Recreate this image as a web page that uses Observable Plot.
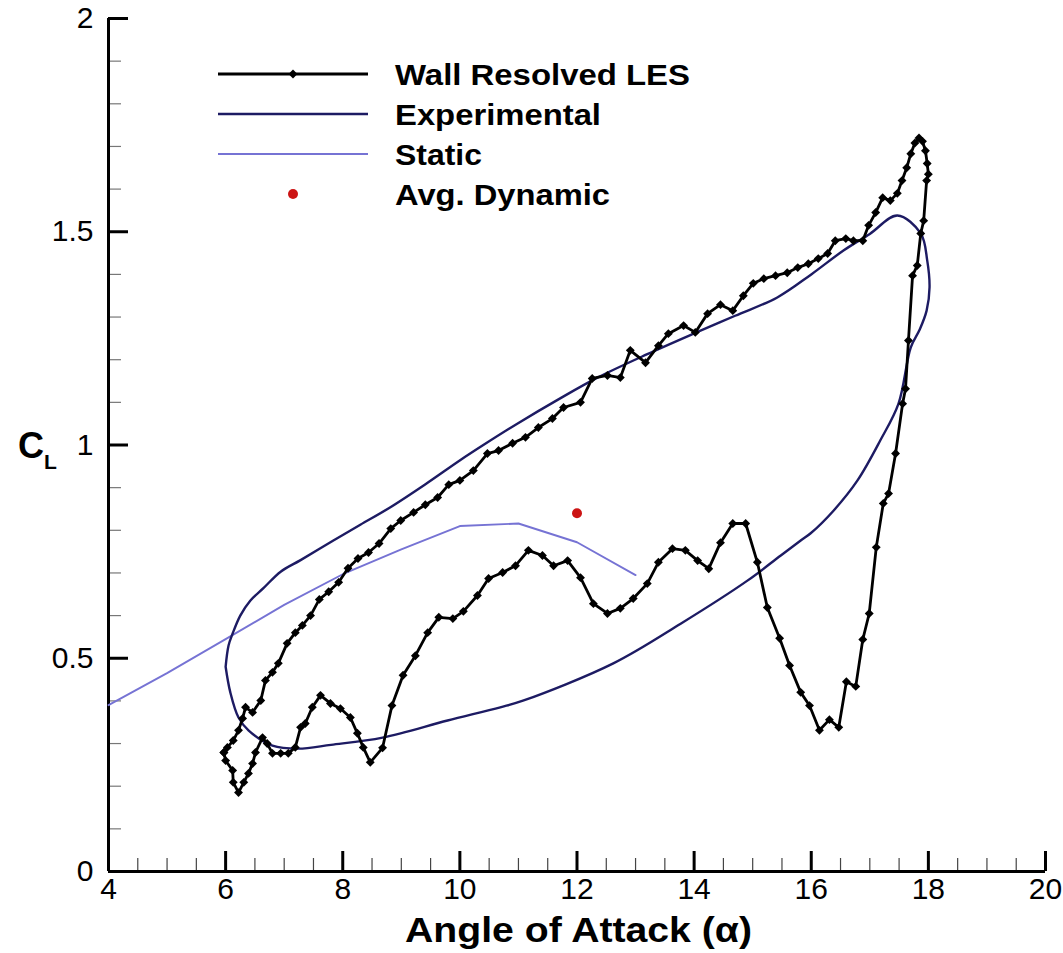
<!DOCTYPE html>
<html>
<head>
<meta charset="utf-8">
<script src="https://cdn.jsdelivr.net/npm/d3@7"></script>
<script src="https://cdn.jsdelivr.net/npm/@observablehq/plot@0.6"></script>
<style>
  html, body { margin: 0; padding: 0; background: #fff; }
  #chart { width: 1063px; height: 953px; }
</style>
</head>
<body>
<div id="chart"></div>
<script>
// Lift coefficient versus angle of attack for a pitching airfoil (6°–18°)

// Wall-resolved LES hysteresis loop (upstroke, then downstroke)
const lesAlpha = [
  5.97, 6.03, 6.13, 6.22, 6.29, 6.34, 6.46, 6.60, 6.68, 6.80, 6.90, 7.05, 7.19, 7.31, 7.45,
  7.60, 7.76, 7.93, 8.09, 8.26, 8.44, 8.62, 8.82, 8.99, 9.21, 9.41, 9.62, 9.81, 10.00, 10.23,
  10.47, 10.66, 10.90, 11.12, 11.34, 11.58, 11.77, 12.06, 12.26, 12.52, 12.74, 12.91, 13.17,
  13.39, 13.56, 13.82, 14.02, 14.23, 14.45, 14.66, 14.84, 15.01, 15.19, 15.39, 15.59, 15.77,
  15.95, 16.12, 16.28, 16.41, 16.59, 16.72, 16.88, 16.98, 17.10, 17.22, 17.35, 17.47, 17.55,
  17.63, 17.70, 17.77, 17.84, 17.90, 17.95, 17.98, 18.00, 17.97,
  17.92, 17.87, 17.81, 17.73, 17.66, 17.61, 17.56, 17.44, 17.32, 17.23, 17.11, 16.99, 16.88,
  16.76, 16.60, 16.47, 16.31, 16.14, 15.97, 15.82, 15.63, 15.46, 15.25, 15.08, 14.88, 14.66,
  14.45, 14.25, 14.06, 13.85, 13.63, 13.39, 13.20, 12.96, 12.74, 12.52, 12.28, 12.06, 11.84,
  11.60, 11.41, 11.17, 10.95, 10.73, 10.49, 10.30, 10.06, 9.88, 9.64, 9.45, 9.24, 9.03, 8.84,
  8.68, 8.47, 8.35, 8.25, 8.13, 7.96, 7.79, 7.62, 7.48, 7.36, 7.28, 7.19, 7.07, 6.94, 6.80,
  6.71, 6.63, 6.51, 6.46, 6.39, 6.31, 6.22, 6.13, 6.12, 6.00, 5.97
];
const lesCL = [
  0.279, 0.291, 0.307, 0.331, 0.359, 0.385, 0.373, 0.401, 0.448, 0.467, 0.488, 0.535, 0.560, 0.577, 0.600,
  0.638, 0.656, 0.678, 0.711, 0.734, 0.748, 0.769, 0.804, 0.823, 0.842, 0.860, 0.877, 0.907, 0.917, 0.940,
  0.980, 0.987, 1.004, 1.018, 1.041, 1.062, 1.088, 1.100, 1.156, 1.163, 1.158, 1.222, 1.193,
  1.233, 1.261, 1.280, 1.264, 1.308, 1.329, 1.315, 1.350, 1.379, 1.390, 1.397, 1.404, 1.416,
  1.425, 1.437, 1.449, 1.479, 1.484, 1.479, 1.479, 1.515, 1.545, 1.580, 1.573, 1.590, 1.620,
  1.650, 1.683, 1.708, 1.720, 1.712, 1.690, 1.660, 1.635, 1.620,
  1.526, 1.496, 1.421, 1.397, 1.245, 1.132, 1.097, 0.980, 0.886, 0.863, 0.760, 0.605, 0.544,
  0.434, 0.445, 0.338, 0.356, 0.331, 0.389, 0.420, 0.483, 0.547, 0.619, 0.725, 0.816, 0.816,
  0.771, 0.710, 0.729, 0.753, 0.757, 0.725, 0.675, 0.640, 0.617, 0.605, 0.628, 0.689, 0.729,
  0.717, 0.741, 0.753, 0.717, 0.701, 0.687, 0.647, 0.610, 0.593, 0.596, 0.560, 0.506, 0.460, 0.389,
  0.290, 0.256, 0.291, 0.324, 0.361, 0.382, 0.394, 0.413, 0.385, 0.347, 0.338, 0.291, 0.277, 0.277, 0.277,
  0.300, 0.314, 0.279, 0.253, 0.230, 0.209, 0.185, 0.209, 0.237, 0.260, 0.279
];

// Experimental loop
const expAlpha = [
  6.00, 6.05, 6.12, 6.25, 6.42, 6.65, 6.94, 7.28, 7.84, 8.30, 8.80, 9.40, 10.01, 10.40, 10.98,
  11.72, 12.35, 13.20, 13.99, 14.70, 15.42, 16.00, 16.55, 17.00, 17.47, 17.87, 17.98, 18.02,
  17.97, 17.85, 17.70, 17.49, 17.18, 16.79, 16.38, 15.99, 15.82, 15.48, 14.91, 13.77, 12.62,
  11.09, 10.69, 9.79, 8.68, 7.80, 7.24, 6.80, 6.39, 6.22, 6.08, 6.00
];
const expCL = [
  0.480, 0.530, 0.558, 0.600, 0.635, 0.665, 0.703, 0.730, 0.776, 0.813, 0.853, 0.907, 0.965, 1.000, 1.050,
  1.110, 1.158, 1.213, 1.261, 1.303, 1.346, 1.400, 1.456, 1.495, 1.538, 1.496, 1.433, 1.370,
  1.315, 1.270, 1.229, 1.097, 1.011, 0.917, 0.846, 0.793, 0.776, 0.741, 0.682, 0.581, 0.488,
  0.401, 0.385, 0.354, 0.314, 0.297, 0.288, 0.295, 0.331, 0.361, 0.420, 0.480
];

// Static polar
const staticAlpha = [4, 5, 6, 7, 8, 9, 10, 11, 12, 13];
const staticCL = [0.390, 0.465, 0.545, 0.625, 0.697, 0.755, 0.810, 0.816, 0.772, 0.695];

// Cycle-averaged dynamic value
const avgAlpha = [12.0];
const avgCL = [0.84];

// Axis ticks
const xMajor = [4, 6, 8, 10, 12, 14, 16, 18, 20];
const xMinor = d3.range(4, 20.001, 0.5);
const yMajor = [0, 0.5, 1, 1.5, 2];
const yMinor = d3.range(0, 2.001, 0.1);

const toRows = (xs, ys) => xs.map((a, i) => ({alpha: a, cl: ys[i]}));
const les = toRows(lesAlpha, lesCL);
const exp = toRows(expAlpha, expCL);
const stat = toRows(staticAlpha, staticCL);
const avg = toRows(avgAlpha, avgCL);

const COLORS = {les: "#000000", exp: "#1d1b63", stat: "#7673d4", avg: "#cc1414"};
const WIDTHS = {les: 2.8, exp: 2.4, stat: 1.9};
const FONT = "'Liberation Sans', Arial, Helvetica, sans-serif";

// frame geometry (pixels)
const W = 1063, H = 953, ML = 108, MR = 18, MT = 18, MB = 82;
const FW = W - ML - MR, FH = H - MT - MB;
const MAJOR = 20, MINOR = 13;

const chart = Plot.plot({
  width: W,
  height: H,
  marginLeft: ML,
  marginRight: MR,
  marginTop: MT,
  marginBottom: MB,
  x: {domain: [4, 20]},
  y: {domain: [0, 2]},
  style: {fontFamily: FONT, background: "#fff", color: "#000", overflow: "visible"},
  marks: [
    // inward minor ticks
    Plot.ruleX(xMinor, {insetTop: FH - MINOR, stroke: "#444", strokeWidth: 1.2}),
    Plot.ruleY(yMinor, {insetRight: FW - MINOR, stroke: "#777", strokeWidth: 1.2}),
    // inward major ticks
    Plot.ruleX(xMajor, {insetTop: FH - MAJOR, stroke: "#000", strokeWidth: 3}),
    Plot.ruleY(yMajor, {insetRight: FW - MAJOR, stroke: "#000", strokeWidth: 3}),
    // tick labels
    Plot.axisX({ticks: xMajor, tickSize: 0, tickPadding: 6, fontSize: 30, tickFormat: d => String(d), label: null}),
    Plot.axisY({ticks: yMajor, tickSize: 0, tickPadding: 15, fontSize: 30, tickFormat: d => String(d), label: null}),
    // axis lines
    Plot.ruleX([4], {strokeWidth: 3}),
    Plot.ruleY([0], {strokeWidth: 3}),
    // curves
    Plot.line(stat, {x: "alpha", y: "cl", stroke: COLORS.stat, strokeWidth: WIDTHS.stat}),
    Plot.line(exp, {x: "alpha", y: "cl", stroke: COLORS.exp, strokeWidth: WIDTHS.exp, curve: "catmull-rom"}),
    Plot.line(les, {x: "alpha", y: "cl", stroke: COLORS.les, strokeWidth: WIDTHS.les}),
    Plot.dot(les, {x: "alpha", y: "cl", symbol: "diamond2", r: 4, fill: COLORS.les, stroke: "none"}),
    Plot.dot(avg, {x: "alpha", y: "cl", r: 5, fill: COLORS.avg, stroke: "none"})
  ]
});

document.getElementById("chart").appendChild(chart);

const svg = d3.select(chart);

// Axis titles
svg.append("text")
  .attr("x", 405).attr("y", 942)
  .attr("text-anchor", "start")
  .attr("font-family", FONT).attr("font-weight", "bold").attr("font-size", 35)
  .attr("textLength", 347).attr("lengthAdjust", "spacingAndGlyphs")
  .attr("fill", "#000")
  .text("Angle of Attack (α)");

const yTitle = svg.append("text")
  .attr("x", 18).attr("y", 458)
  .attr("text-anchor", "start")
  .attr("font-family", FONT).attr("font-weight", "bold").attr("font-size", 36)
  .attr("fill", "#000");
yTitle.append("tspan").text("C");
yTitle.append("tspan").attr("font-size", 21).attr("dy", 11).text("L");

// Legend
const legendItems = [
  {label: "Wall Resolved LES", kind: "les", len: 295},
  {label: "Experimental", kind: "exp", len: 206},
  {label: "Static", kind: "stat", len: 87},
  {label: "Avg. Dynamic", kind: "avg", len: 215}
];
const lg = svg.append("g").attr("class", "legend");
const lx0 = 218, lx1 = 368, ly0 = 74, lstep = 40, ltx = 395;
legendItems.forEach((item, i) => {
  const y = ly0 + i * lstep;
  const cx = (lx0 + lx1) / 2;
  if (item.kind === "avg") {
    lg.append("circle").attr("cx", cx).attr("cy", y).attr("r", 5).attr("fill", COLORS.avg);
  } else {
    lg.append("line").attr("x1", lx0).attr("x2", lx1).attr("y1", y).attr("y2", y)
      .attr("stroke", COLORS[item.kind]).attr("stroke-width", WIDTHS[item.kind]);
    if (item.kind === "les") {
      lg.append("path")
        .attr("transform", `translate(${cx},${y})`)
        .attr("d", d3.symbol(d3.symbolDiamond2, Math.PI * 4 * 4)())
        .attr("fill", COLORS.les);
    }
  }
  lg.append("text")
    .attr("x", ltx).attr("y", y + 11)
    .attr("text-anchor", "start")
    .attr("font-family", FONT).attr("font-weight", "bold").attr("font-size", 30)
    .attr("textLength", item.len).attr("lengthAdjust", "spacingAndGlyphs")
    .attr("fill", "#000")
    .text(item.label);
});
</script>
</body>
</html>
